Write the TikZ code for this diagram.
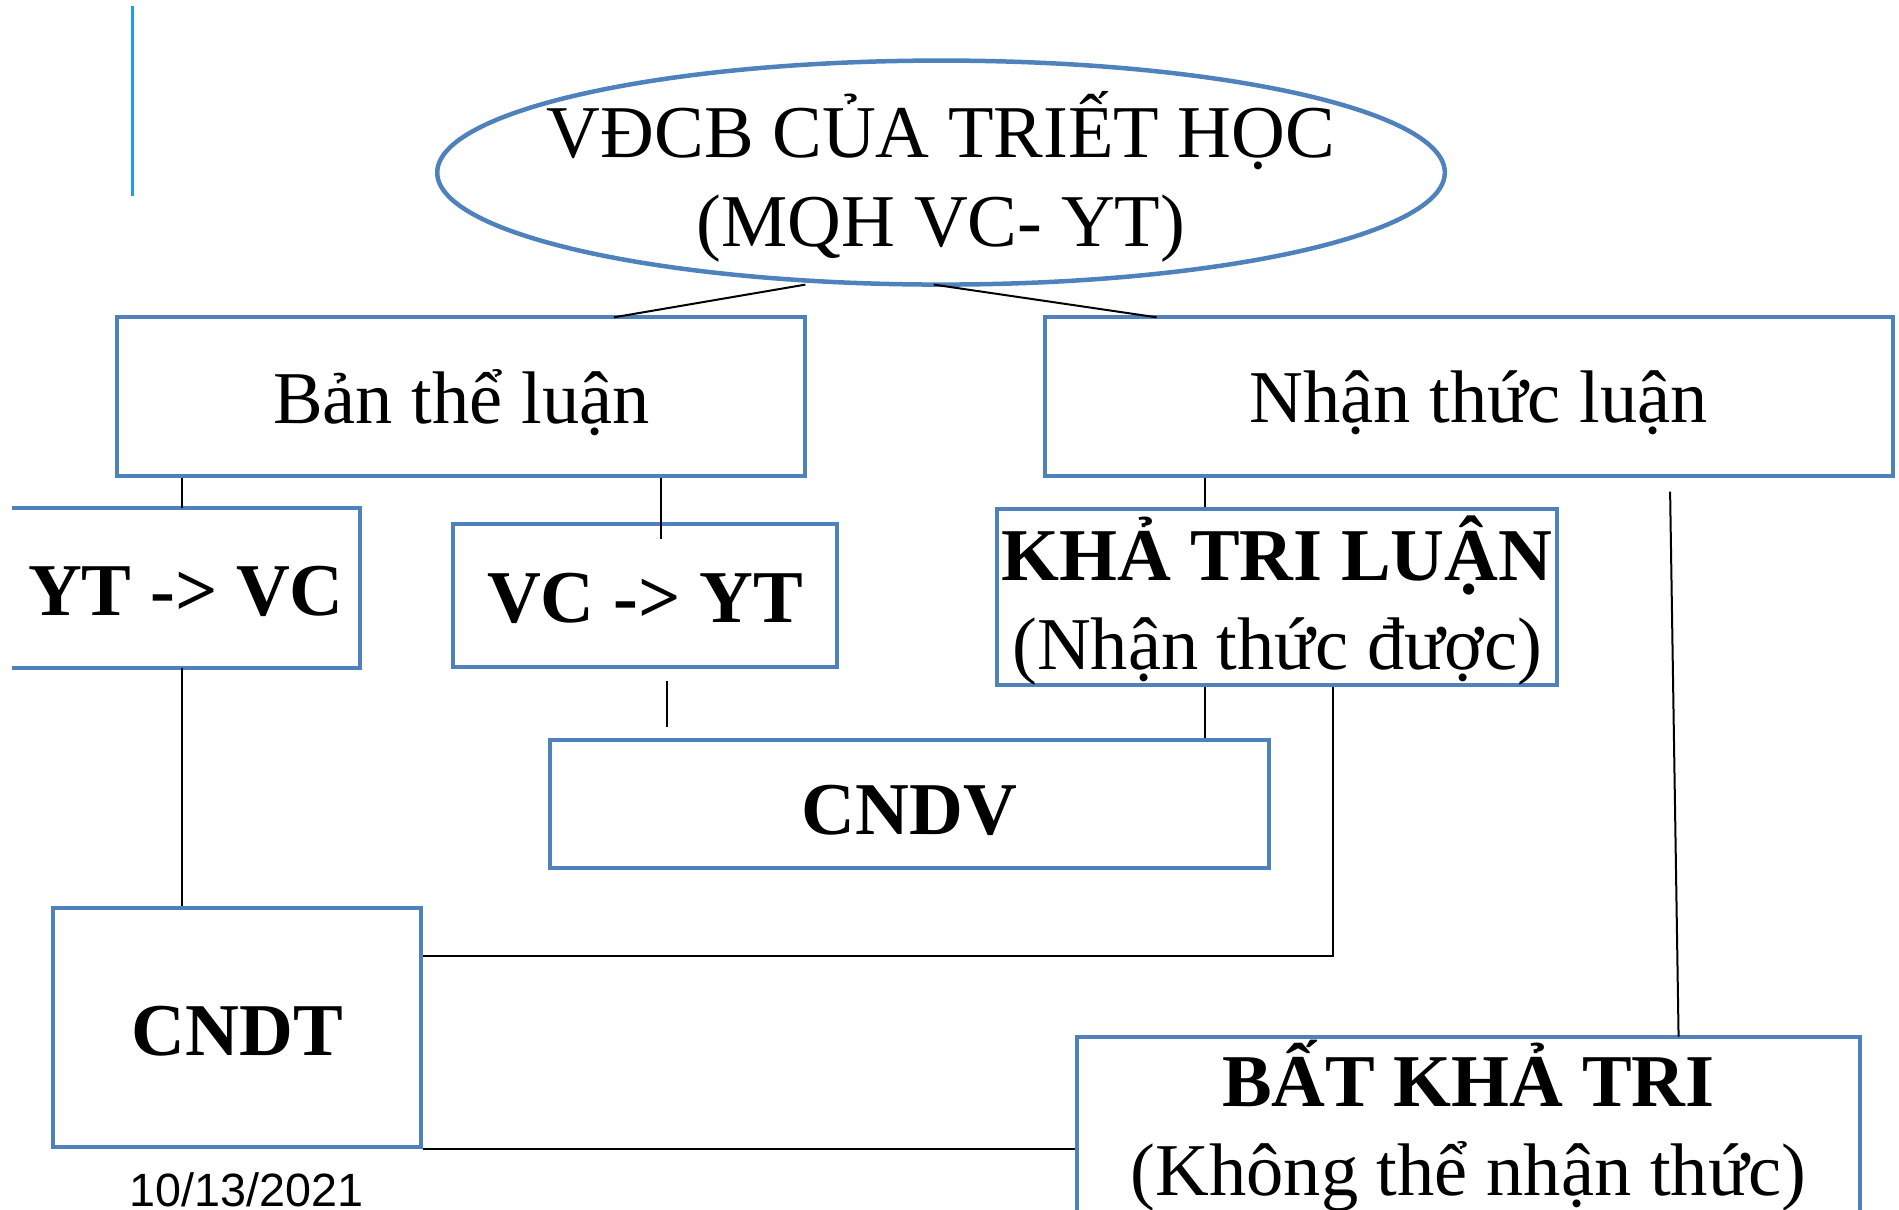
\documentclass[tikz,border=0pt]{standalone}
\usepackage{fontspec}
\setmainfont{Liberation Serif}
\newfontfamily\datefont{Liberation Sans}
\usetikzlibrary{shapes.geometric}
\definecolor{boxblue}{RGB}{79,129,189}
\definecolor{barblue}{RGB}{27,161,226}
\newcommand{\bigtext}{\fontsize{74.5}{89}\selectfont}
\newcommand{\dn}[2][-6pt]{\raisebox{#1}[\height][\depth]{#2}}
\tikzset{
  box/.style={draw=boxblue, line width=4pt, rectangle, inner sep=0pt, align=center,
    font=\bigtext},
  boldbox/.style={box, font=\bigtext\bfseries},
  txt/.style={inner sep=0pt, align=center, font=\bigtext},
  link/.style={draw=black, line width=2pt},
}
\begin{document}
\begin{tikzpicture}[x=1.2111pt,y=-1.2111pt]
\useasboundingbox (0,0) rectangle (1568,999);
\clip (0,0) rectangle (1568,999);

% side bar
\draw[barblue, line width=3pt] (109,5) -- (109,162);

% ellipse
\node[ellipse, draw=boxblue, line width=4.5pt, minimum width=1007.6pt, minimum height=224pt, inner sep=0pt] (e) at (777,142.5) {};
\node[txt] (etxt) at (777,146) {VĐCB CỦA TRIẾT HỌC\\(MQH VC- YT)};

% boxes
\node[box, minimum width=687.9pt, minimum height=158.7pt] (bt) at (381,327.5) {\dn{Bản thể luận}};
\node[box, minimum width=847.8pt, minimum height=158.7pt] (nt) at (1213,327.5) {\dn{\hspace*{19.4pt}Nhận thức luận}};
\node[txt, minimum width=347.6pt, minimum height=158.7pt, font=\bigtext\bfseries] (yv) at (153.5,485.5) {\dn[-3pt]{YT -> VC}};
\draw[boxblue, line width=4pt] (yv.north west) -- (yv.north east) -- (yv.south east) -- (yv.south west);
\node[boldbox, minimum width=383.9pt, minimum height=142.9pt] (vy) at (532.5,492) {\dn[-3pt]{VC -> YT}};
\node[box, minimum width=560.7pt, minimum height=176.8pt] (kt) at (1054.5,493) {};
\node[txt] (kttxt) at (1054.5,496) {\textbf{KHẢ TRI LUẬN}\\(Nhận thức được)};
\node[boldbox, minimum width=719.4pt, minimum height=128.4pt] (cndv) at (751,664) {\dn{CNDV}};
\node[boldbox, minimum width=368.2pt, minimum height=238.6pt] (cndt) at (196,848.5) {\dn[-4pt]{CNDT}};
\node[box, minimum width=783.6pt, minimum height=179.2pt] (bkt) at (1212.5,930) {};
\node[txt] (bkttxt) at (1212.5,930) {\textbf{BẤT KHẢ TRI}\\(Không thể nhận thức)};

% date
\node[anchor=base west, inner sep=0pt, font=\datefont\fontsize{46.7}{56}\selectfont] (date) at (107,996) {10/13/2021};

% helper coordinates
\coordinate (x150) at (150,0);
\coordinate (x546) at (546,445);
\coordinate (x995) at (995,0);
\coordinate (x551a) at (551,562);
\coordinate (x551b) at (551,600);
\coordinate (x1101) at (1101,789);
\coordinate (e1) at (665,235);
\coordinate (b1) at (507,262);
\coordinate (e2) at (771,235);
\coordinate (n2) at (955,262);
\coordinate (n3) at (1379,406);
\coordinate (k3) at (1386,856);

% connectors
\draw[link] (e1) -- (b1);
\draw[link] (e2) -- (n2);
\draw[link] (bt.south -| x150) -- (yv.north -| x150);
\draw[link] (bt.south -| x546) -- (x546);
\draw[link] (nt.south -| x995) -- (kt.north -| x995);
\draw[link] (n3) -- (k3);
\draw[link] (yv.south -| x150) -- (cndt.north -| x150);
\draw[link] (x551a) -- (x551b);
\draw[link] (kt.south -| x995) -- (cndv.north -| x995);
\draw[link] (kt.south -| x1101) -- (x1101) -- (cndt.east |- x1101);
\draw[link] (cndt.south east) -- (bkt.west |- cndt.south east);
\end{tikzpicture}
\end{document}
